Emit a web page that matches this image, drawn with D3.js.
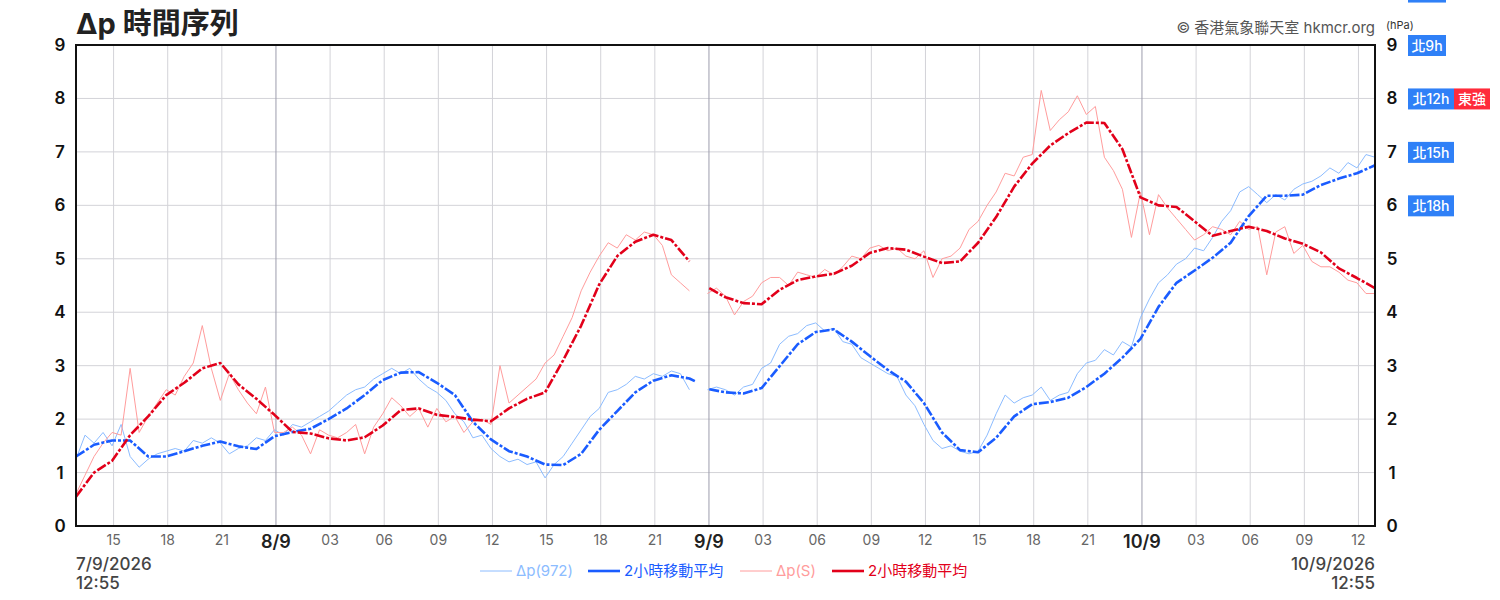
<!DOCTYPE html>
<html lang="en">

<head>
  <meta charset="UTF-8">
  <title>Δp 時間序列</title>
  <style>
    body { margin: 0; background: #fff; }
    text { font-family: Inter, "Noto Sans CJK TC", sans-serif; }
  </style>
</head>

<body>
  <svg id="svg" width="1500" height="600"></svg>

  <script src="https://d3js.org/d3.v7.min.js"></script>
  <script>
    // hours after 7/9/2026 12:55
    const maHours = [0, 1, 2, 3, 4, 5, 6, 7, 8, 9, 10, 11, 12, 13, 14, 15, 16, 17, 18, 19, 20, 21, 22, 23, 24,
      25, 26, 27, 28, 29, 30, 31, 32, 33, 34, 34.3, 34.7, 35.1, 36, 37, 38, 39, 40, 41, 42, 43, 44, 45, 46, 47,
      48, 49, 50, 51, 52, 53, 54, 55, 56, 57, 58, 59, 60, 61, 62, 63, 64, 65, 66, 67, 68, 69, 70, 71, 72]

    const blueMA = [1.30, 1.52, 1.60, 1.60, 1.30, 1.30, 1.40, 1.50, 1.58, 1.49, 1.44, 1.68, 1.76, 1.82, 2.00,
      2.20, 2.45, 2.73, 2.87, 2.88, 2.68, 2.45, 1.95, 1.62, 1.40, 1.30, 1.15, 1.14, 1.35, 1.80, 2.15, 2.50,
      2.72, 2.82, 2.76, 2.71, null, 2.56, 2.50, 2.48, 2.58, 2.99, 3.40, 3.63, 3.68, 3.45, 3.18, 2.92, 2.70,
      2.30, 1.75, 1.42, 1.38, 1.65, 2.05, 2.28, 2.32, 2.40, 2.60, 2.85, 3.15, 3.50, 4.10, 4.55, 4.78, 5.02,
      5.30, 5.80, 6.18, 6.18, 6.20, 6.38, 6.50, 6.60, 6.75]

    const redMA = [0.55, 1.00, 1.22, 1.70, 2.05, 2.45, 2.68, 2.95, 3.05, 2.65, 2.38, 2.08, 1.76, 1.73, 1.64,
      1.60, 1.66, 1.88, 2.17, 2.20, 2.08, 2.04, 1.99, 1.96, 2.20, 2.38, 2.50, 3.10, 3.75, 4.52, 5.05, 5.32,
      5.45, 5.35, 4.95, null, null, 4.45, 4.28, 4.17, 4.15, 4.42, 4.60, 4.67, 4.72, 4.87, 5.11, 5.20, 5.17,
      5.04, 4.92, 4.95, 5.30, 5.78, 6.35, 6.78, 7.12, 7.35, 7.55, 7.54, 7.05, 6.15, 6.00, 5.97, 5.70, 5.43,
      5.52, 5.60, 5.52, 5.38, 5.28, 5.12, 4.82, 4.64, 4.45]

    // raw readings every half hour
    const rawHours = d3.range(0, 72.5, 0.5)

    const blueRaw = [1.25, 1.70, 1.55, 1.75, 1.50, 1.90, 1.30, 1.10, 1.25, 1.35, 1.40, 1.45, 1.40, 1.60, 1.55,
      1.65, 1.55, 1.35, 1.45, 1.50, 1.65, 1.60, 1.80, 1.70, 1.90, 1.85, 1.95, 2.05, 2.15, 2.30, 2.45, 2.55,
      2.60, 2.75, 2.85, 2.95, 2.85, 2.95, 2.75, 2.60, 2.50, 2.35, 2.10, 1.95, 1.65, 1.70, 1.45, 1.30, 1.20,
      1.25, 1.15, 1.20, 0.90, 1.15, 1.30, 1.55, 1.80, 2.05, 2.20, 2.50, 2.55, 2.65, 2.80, 2.75, 2.85, 2.80,
      2.90, 2.85, 2.55, null, 2.55, 2.60, 2.55, 2.45, 2.60, 2.65, 2.95, 3.05, 3.40, 3.55, 3.60, 3.75, 3.80,
      3.65, 3.70, 3.45, 3.40, 3.15, 3.05, 2.95, 2.85, 2.80, 2.45, 2.25, 1.90, 1.60, 1.45, 1.50, 1.40, 1.35,
      1.40, 1.70, 2.10, 2.45, 2.30, 2.40, 2.45, 2.60, 2.35, 2.45, 2.50, 2.85, 3.05, 3.10, 3.30, 3.20, 3.45,
      3.35, 3.90, 4.25, 4.55, 4.70, 4.90, 5.00, 5.20, 5.15, 5.40, 5.70, 5.90, 6.25, 6.35, 6.20, 6.05, 6.20,
      6.10, 6.30, 6.40, 6.45, 6.55, 6.70, 6.60, 6.80, 6.70, 6.95, 6.90]

    const redRaw = [0.60, 0.95, 1.30, 1.55, 1.75, 1.70, 2.95, 1.75, 2.05, 2.30, 2.55, 2.45, 2.80, 3.05, 3.75,
      2.95, 2.35, 2.85, 2.55, 2.30, 2.10, 2.60, 1.75, 1.75, 1.85, 1.70, 1.35, 1.80, 1.70, 1.65, 1.75, 1.90,
      1.35, 1.85, 2.10, 2.40, 2.25, 2.05, 2.20, 1.85, 2.20, 1.95, 2.05, 1.75, 1.95, 2.00, 1.90, 3.00, 2.30,
      2.45, 2.60, 2.75, 3.05, 3.20, 3.55, 3.90, 4.40, 4.75, 5.05, 5.30, 5.20, 5.45, 5.35, 5.50, 5.45, 5.25,
      4.70, 4.55, 4.40, null, 4.35, 4.45, 4.30, 3.95, 4.20, 4.30, 4.55, 4.65, 4.65, 4.50, 4.75, 4.70, 4.65,
      4.80, 4.70, 4.85, 5.05, 5.00, 5.20, 5.25, 5.15, 5.20, 5.05, 5.00, 5.15, 4.65, 5.00, 5.05, 5.20, 5.55,
      5.70, 6.00, 6.25, 6.60, 6.55, 6.90, 6.95, 8.15, 7.40, 7.60, 7.75, 8.05, 7.70, 7.85, 6.90, 6.65, 6.30,
      5.40, 6.25, 5.45, 6.20, 5.95, 5.75, 5.55, 5.35, 5.45, 5.60, 5.55, 5.45, 5.70, 5.55, 5.60, 4.70, 5.50,
      5.60, 5.10, 5.25, 4.95, 4.85, 4.85, 4.75, 4.60, 4.55, 4.35, 4.35]

    // wind badges; the one at 10 sits above the frame and is cut by the page edge
    const windValues = [10, 9, 8, 7, 6]
    const windLabels = [[""], ["北9h"], ["北12h", "東強"], ["北15h"], ["北18h"]]

    const legendLabels = ["Δp(972)", "2小時移動平均", "Δp(S)", "2小時移動平均"]

    const start = new Date(2026, 8, 7, 12, 55)
    const end = d3.timeHour.offset(start, 72)
    const toDate = h => d3.timeMinute.offset(start, Math.round(h * 60))

    const plotL = 76, plotR = 1375, plotT = 45, plotB = 526

    const x = d3.scaleTime().domain([start, end]).range([plotL, plotR])
    const y = d3.scaleLinear().domain([0, 9]).range([plotB, plotT])

    const svg = d3.select("#svg")

    // grid
    const hourTicks = d3.timeHour.every(3).range(d3.timeHour.offset(start, 1), end)
    svg.append("g")
      .selectAll("line")
      .data(y.ticks(9))
      .join("line")
      .attr("x1", plotL).attr("x2", plotR)
      .attr("y1", d => y(d)).attr("y2", d => y(d))
      .attr("stroke", "#d3d3d8")
      .attr("stroke-width", 1)

    svg.append("g")
      .selectAll("line")
      .data(hourTicks)
      .join("line")
      .attr("x1", d => x(d)).attr("x2", d => x(d))
      .attr("y1", plotT).attr("y2", plotB)
      .attr("stroke", d => d.getHours() === 0 ? "#9c9cac" : "#d3d3d8")
      .attr("stroke-width", 1)

    svg.append("clipPath").attr("id", "plot")
      .append("rect").attr("x", plotL).attr("y", plotT).attr("width", plotR - plotL).attr("height", plotB - plotT)

    const line = (hours) => d3.line()
      .defined(d => d != null)
      .x((d, i) => x(toDate(hours[i])))
      .y(d => y(d))

    const series = [
      { values: blueRaw, hours: rawHours, color: "#8cbcff", width: 1, dash: null },
      { values: redRaw, hours: rawHours, color: "#ff9c9c", width: 1, dash: null },
      { values: blueMA, hours: maHours, color: "#1a5cff", width: 2.6, dash: "10,2,3,2" },
      { values: redMA, hours: maHours, color: "#e2001a", width: 2.6, dash: "10,2,3,2" }
    ]

    svg.append("g")
      .attr("clip-path", "url(#plot)")
      .selectAll("path")
      .data(series)
      .join("path")
      .attr("d", s => line(s.hours)(s.values))
      .attr("fill", "none")
      .attr("stroke", s => s.color)
      .attr("stroke-width", s => s.width)
      .attr("stroke-dasharray", s => s.dash)
      .attr("stroke-linejoin", "round")

    // frame
    svg.append("rect")
      .attr("x", plotL).attr("y", plotT)
      .attr("width", plotR - plotL).attr("height", plotB - plotT)
      .attr("fill", "none")
      .attr("stroke", "#111")
      .attr("stroke-width", 2)

    // y labels both sides
    svg.append("g")
      .selectAll("text")
      .data(y.ticks(9))
      .join("text")
      .attr("x", 60).attr("y", d => y(d) + 6)
      .attr("text-anchor", "middle")
      .style("font-size", "17px").style("font-weight", "600").attr("fill", "#111")
      .text(d => d)

    svg.append("g")
      .selectAll("text")
      .data(y.ticks(9))
      .join("text")
      .attr("x", 1392).attr("y", d => y(d) + 6)
      .attr("text-anchor", "middle")
      .style("font-size", "17px").style("font-weight", "600").attr("fill", "#111")
      .text(d => d)

    svg.append("text")
      .attr("x", 1386).attr("y", 29)
      .style("font-size", "11px").attr("fill", "#333")
      .text("(hPa)")

    // x tick labels
    svg.append("g")
      .selectAll("text")
      .data(hourTicks)
      .join("text")
      .attr("x", d => x(d)).attr("y", d => d.getHours() === 0 ? 548 : 545)
      .attr("text-anchor", "middle")
      .style("font-size", d => d.getHours() === 0 ? "18px" : "14px")
      .style("font-weight", d => d.getHours() === 0 ? "600" : "400")
      .attr("fill", d => d.getHours() === 0 ? "#222" : "#666")
      .text(d => d.getHours() === 0 ? `${d.getDate()}/${d.getMonth() + 1}` : d3.timeFormat("%H")(d))

    const stamp = d3.timeFormat("%-d/%-m/%Y")
    const clock = d3.timeFormat("%H:%M")
    ;[[start, plotL, "start"], [end, plotR, "end"]].forEach(([d, px, anchor]) => {
      svg.append("text").attr("x", px).attr("y", 570).attr("text-anchor", anchor)
        .style("font-size", "17px").style("font-weight", "500").attr("fill", "#444").text(stamp(d))
      svg.append("text").attr("x", px).attr("y", 589).attr("text-anchor", anchor)
        .style("font-size", "17px").style("font-weight", "500").attr("fill", "#444").text(clock(d))
    })

    // title & credit
    svg.append("text")
      .attr("x", plotL).attr("y", 34)
      .style("font-size", "29px").style("font-weight", "700").attr("fill", "#222")
      .text("Δp 時間序列")

    svg.append("text")
      .attr("x", plotR).attr("y", 33)
      .attr("text-anchor", "end")
      .style("font-size", "15px").attr("fill", "#555")
      .text("© 香港氣象聯天室 hkmcr.org")

    // wind badges on the right
    windValues.forEach((v, i) => {
      let bx = 1408
      windLabels[i].forEach((lab, j) => {
        const w = lab.length > 3 ? 46 : (j === 1 ? 36 : 38)
        svg.append("rect")
          .attr("x", bx).attr("y", y(v) - 10)
          .attr("width", w).attr("height", 21)
          .attr("fill", j === 1 ? "#ff2b3b" : "#2f80f7")
        if (lab) {
          svg.append("text")
            .attr("x", bx + w / 2).attr("y", y(v) + 6)
            .attr("text-anchor", "middle")
            .style("font-size", "14px").style("font-weight", "500").attr("fill", "#fff")
            .text(lab)
        }
        bx += w
      })
    })

    // legend
    const legendX = [480, 588, 740, 832]
    const legendSeries = [series[0], series[2], series[1], series[3]]
    const legend = svg.append("g")
    legendSeries.forEach((s, i) => {
      legend.append("line")
        .attr("x1", legendX[i]).attr("x2", legendX[i] + 32)
        .attr("y1", 571).attr("y2", 571)
        .attr("stroke", s.color).attr("stroke-width", s.width === 1 ? 1 : 2.6)
      legend.append("text")
        .attr("x", legendX[i] + 36).attr("y", 576)
        .style("font-size", "15px")
        .attr("fill", s.color)
        .text(legendLabels[i])
    })
  </script>
</body>

</html>
